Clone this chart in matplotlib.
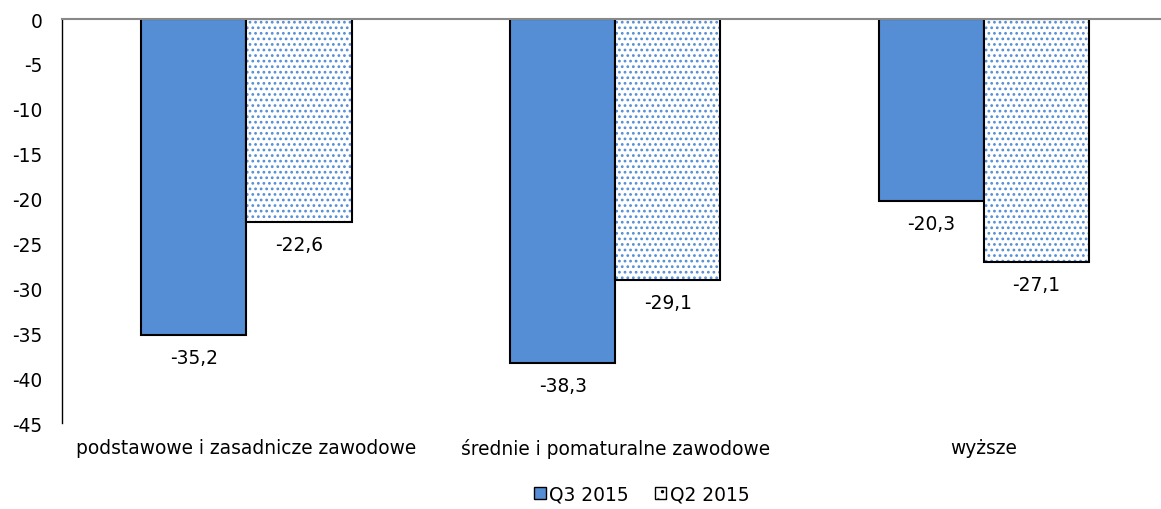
import matplotlib.pyplot as plt
from matplotlib.patches import Patch
import numpy as np

plt.rcParams['font.family'] = 'DejaVu Sans'
plt.rcParams['axes.unicode_minus'] = False
plt.rcParams['hatch.linewidth'] = 1.2

categories = ["podstawowe i zasadnicze zawodowe", "średnie i pomaturalne zawodowe", "wyższe"]
q3_2015 = [-35.2, -38.3, -20.3]
q2_2015 = [-22.6, -29.1, -27.1]
labels_q3 = ["-35,2", "-38,3", "-20,3"]
labels_q2 = ["-22,6", "-29,1", "-27,1"]

blue = "#558ed5"
w = 0.285
fs = 13.4
x = np.arange(len(categories))

fig = plt.figure(figsize=(11.61, 5.10), dpi=100)
ax = fig.add_axes([62 / 1161, 1 - 424 / 510, 1 - 62 / 1161, 404 / 510])

ax.bar(x - w / 2, q3_2015, w, color=blue, edgecolor="black", linewidth=1.5)
# dotted bars: hatch layer in blue, then black outline on top
ax.bar(x + w / 2, q2_2015, w, color="white", edgecolor=blue, hatch="...", linewidth=0)
ax.bar(x + w / 2, q2_2015, w, fill=False, edgecolor="black", linewidth=1.5)

for xi, v, s in zip(x - w / 2, q3_2015, labels_q3):
    ax.annotate(s, (xi, v), xytext=(0, -16), textcoords="offset points",
                ha="center", va="center", fontsize=fs)
for xi, v, s in zip(x + w / 2, q2_2015, labels_q2):
    ax.annotate(s, (xi, v), xytext=(0, -16), textcoords="offset points",
                ha="center", va="center", fontsize=fs)

ax.set_xlim(-0.5, (1161 - 246) / 369)
ax.set_ylim(-45, 0)
ax.set_yticks(range(-45, 1, 5))
ax.tick_params(axis="y", length=0, labelsize=fs, pad=14)
ax.tick_params(axis="x", length=0, labelsize=fs, pad=11)
ax.set_xticks(x)
ax.set_xticklabels(categories)

for side in ("right", "bottom"):
    ax.spines[side].set_visible(False)
ax.spines["top"].set_color("#888888")
ax.spines["top"].set_linewidth(1.5)
ax.spines["left"].set_color("black")
ax.spines["left"].set_linewidth(1)

handles = [Patch(facecolor=blue, edgecolor="black", label="Q3 2015"),
           Patch(facecolor="white", edgecolor="black", hatch="..", label="Q2 2015")]
fig.legend(handles=handles, loc="center", bbox_to_anchor=(0.553, 1 - 495 / 510), ncol=2,
           frameon=False, fontsize=fs, handlelength=0.6, handleheight=0.6,
           handletextpad=0.2, columnspacing=1.4)

fig.savefig("out.png", dpi=100)
